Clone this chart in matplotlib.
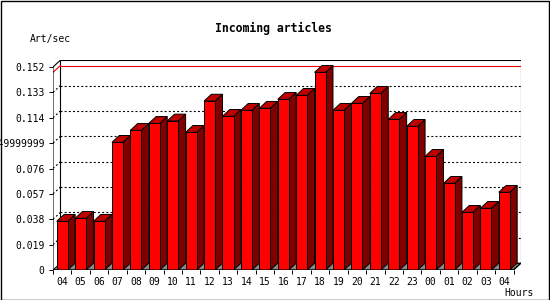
import matplotlib
matplotlib.use("Agg")
import matplotlib.pyplot as plt
from matplotlib.patches import Polygon, Rectangle

# data
hours = ["04", "05", "06", "07", "08", "09", "10", "11", "12", "13", "14", "15",
         "16", "17", "18", "19", "20", "21", "22", "23", "00", "01", "02", "03", "04"]
rates = [0.0365, 0.0387, 0.0365, 0.0956, 0.1046, 0.1098, 0.1116, 0.1031, 0.1265,
         0.1151, 0.1196, 0.1211, 0.1278, 0.1308, 0.1480, 0.1196, 0.1248, 0.1323,
         0.1128, 0.1076, 0.0851, 0.0649, 0.0432, 0.0462, 0.0582]
yticks = [0, 0.019, 0.038, 0.057, 0.076, 0.095, 0.114, 0.133, 0.152]
ytick_labels = ["0", "0.019", "0.038", "0.057", "0.076", "0.0949999999",
                "0.114", "0.133", "0.152"]

plt.rcParams["font.family"] = "DejaVu Sans Mono"
plt.rcParams["lines.scale_dashes"] = False

W, H = 550, 300
n = len(rates)
ymax = yticks[-1]
dx = 0.4        # depth in category units
dy = 0.0051     # depth in value units
px_x = 18.42    # pixels per category
px_y = 1335.5   # pixels per value unit

fig = plt.figure(figsize=(W / 100, H / 100), dpi=100)
ax_w = (n + dx) * px_x
ax_h = (ymax + dy) * px_y
ax = fig.add_axes([53 / W, 30 / H, ax_w / W, ax_h / H])
ax.set_xlim(0, n + dx)
ax.set_ylim(0, ymax + dy)
for s in ax.spines.values():
    s.set_visible(False)
ax.patch.set_visible(False)

dots = (0, (1.4, 1.6))

# floor and back wall
ax.add_patch(Polygon([(0, 0), (n, 0), (n + dx, dy), (dx, dy)], closed=True,
                     facecolor="#888888", edgecolor="black", lw=0.7, zorder=1))
ax.add_patch(Rectangle((dx, dy), n, ymax, facecolor="none", edgecolor="black",
                       lw=0.8, zorder=1))

# grid on the back wall
for v in yticks[1:-1]:
    ax.plot([dx, n + dx], [v + dy, v + dy], color="black", lw=0.8, ls=dots, zorder=1.5)
    ax.plot([0, dx], [v, v + dy], color="black", lw=0.8, ls=dots, zorder=1.5)

# max line
vmax = max(rates)
ax.plot([dx, n + dx], [vmax + dy, vmax + dy], color="#ee0000", lw=0.8, zorder=1.5)
ax.plot([0, dx], [vmax, vmax + dy], color="#ee0000", lw=0.8, zorder=1.5)

# axes lines
ax.plot([0, 0, dx], [0, ymax, ymax + dy], color="black", lw=0.8, zorder=50)
ax.plot([0, n, n + dx], [0, 0, dy], color="black", lw=0.8, zorder=50)

# bars
x0s = [i + 0.2 for i in range(n)]
bw = 0.6
for i, (x0, v) in enumerate(zip(x0s, rates)):
    z = 2 + i * 0.01
    x1 = x0 + bw
    ax.add_patch(Polygon([(x1, 0), (x1 + dx, dy), (x1 + dx, v + dy), (x1, v)],
                         closed=True, facecolor="#800000", edgecolor="black",
                         lw=0.7, zorder=z))
    ax.add_patch(Polygon([(x0, v), (x0 + dx, v + dy), (x1 + dx, v + dy), (x1, v)],
                         closed=True, facecolor="#c00000", edgecolor="black",
                         lw=0.7, zorder=z))
ax.bar(x0s, rates, width=bw, align="edge", color="#ff0000", edgecolor="black",
       lw=0.7, zorder=3)

# ticks
ax.set_yticks(yticks)
ax.set_yticklabels(ytick_labels)
ax.tick_params(axis="y", direction="out", length=3, width=0.7, pad=3, labelsize=7)
ax.set_xticks([i + 0.5 for i in range(n)])
ax.set_xticklabels(hours)
ax.set_xticks(range(n + 1), minor=True)
ax.tick_params(axis="x", which="major", length=0, pad=5, labelsize=7)
ax.tick_params(axis="x", which="minor", direction="out", length=3, width=0.7)

fig.text(273 / W, 1 - 28 / H, "Incoming articles", ha="center", va="center",
         fontsize=8.3, fontweight="bold")
fig.text(30 / W, 1 - 39 / H, "Art/sec", ha="left", va="center", fontsize=7)
fig.text(534 / W, 1 - 292.5 / H, "Hours", ha="right", va="center", fontsize=7)

fig.patches.append(Rectangle((0.5 / W, 0.5 / H), 1 - 1.5 / W, 1 - 1.5 / H,
                             transform=fig.transFigure, facecolor="none",
                             edgecolor="black", lw=1))

fig.savefig("out.png", dpi=100)
